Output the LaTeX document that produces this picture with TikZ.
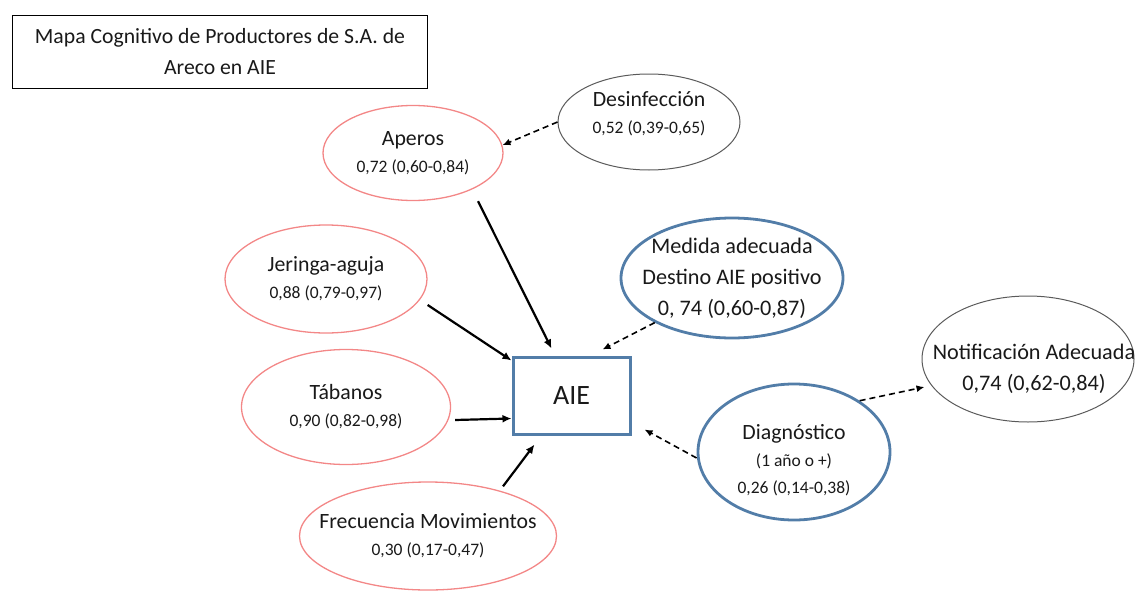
\documentclass[tikz,border=0pt]{standalone}
\usepackage{fontspec}
\setmainfont{Carlito}
\usetikzlibrary{shapes.geometric,arrows.meta}
\definecolor{redline}{RGB}{243,135,135}
\definecolor{blueline}{RGB}{82,125,168}
\definecolor{greyline}{RGB}{90,90,90}
\definecolor{txt}{RGB}{25,25,25}
\newcommand{\lbltxt}{\fontsize{21.8}{27}\selectfont}
\newcommand{\bigtxt}{\fontsize{22.2}{31}\selectfont}
\newcommand{\smalltxt}{\fontsize{17.5}{27}\selectfont}

\begin{document}
\begin{tikzpicture}[x=1pt,y=1pt,
    ell/.style={ellipse,align=center,text=txt,font=\lbltxt,inner xsep=-40pt,inner ysep=-15pt},
    redell/.style={ell,draw=redline,line width=1.3pt},
    blueell/.style={ell,draw=blueline,line width=2.8pt},
    greyell/.style={ell,draw=greyline,line width=1pt},
    arr/.style={-{Latex[length=9pt,width=8pt]},line width=2.2pt},
    darr/.style={-{Latex[length=8pt,width=7pt]},line width=1.6pt,dash pattern=on 6pt off 4pt}]
    \useasboundingbox (0,0) rectangle (1137,-594);

    % Title box
    \node[draw,line width=1.8pt,minimum width=415,minimum height=73,align=center,
          font=\fontsize{21.7}{31}\selectfont,text=txt] (title) at (220,-52)
          {Mapa Cognitivo de Productores de S.A. de\\Areco en AIE};

    % Central node
    \node[draw=blueline,line width=3pt,minimum width=117,minimum height=77,
          font=\fontsize{28}{30}\selectfont,text=txt] (aie) at (571.5,-395.5) {AIE};

    % Red ellipses
    \node[redell,minimum width=180,minimum height=95] (aperos) at (413,-153)
          {Aperos\\{\smalltxt 0,72 (0,60-0,84)}};
    \node[redell,minimum width=202,minimum height=108] (jeringa) at (326,-279)
          {Jeringa-aguja\\{\smalltxt 0,88 (0,79-0,97)}};
    \node[redell,minimum width=209,minimum height=115] (tabanos) at (346,-407)
          {Tábanos\\{\smalltxt 0,90 (0,82-0,98)}};
    \node[redell,minimum width=257,minimum height=108] (frec) at (428,-536)
          {Frecuencia Movimientos\\{\smalltxt 0,30 (0,17-0,47)}};

    % Grey ellipses
    \node[greyell,minimum width=182,minimum height=96,text depth=18pt] (desinf) at (649,-122)
          {Desinfección\\{\smalltxt 0,52 (0,39-0,65)}};
    \node[greyell,minimum width=212,minimum height=126,font=\bigtxt] (notif) at (1028,-359)
          {\rule{0pt}{36pt}\hspace{12pt}Notificación Adecuada\\\hspace{12pt}0,74 (0,62-0,84)};

    % Blue ellipses
    \node[blueell,minimum width=222,minimum height=120,font=\bigtxt] (medida) at (732,-278)
          {Medida adecuada\\Destino AIE positivo\\0, 74 (0,60-0,87)};
    \node[blueell,minimum width=192,minimum height=136] (diag) at (794,-452)
          {\rule{0pt}{32pt}Diagnóstico\\{\smalltxt (1 año o +)}\\{\smalltxt 0,26 (0,14-0,38)}};

    % Solid arrows
    \draw[arr] ([xshift=65pt]aperos.south) -- ([xshift=-20pt,yshift=7pt]aie.north);
    \draw[arr] ([yshift=-26pt]jeringa.east) -- ([yshift=-5pt]aie.north west);
    \draw[arr] ([xshift=4pt,yshift=-13pt]tabanos.east) -- ([yshift=-23pt]aie.west);
    \draw[arr] ([xshift=75pt,yshift=-5pt]frec.north) -- ([xshift=-37pt,yshift=-9pt]aie.south);

    % Dashed arrows
    \draw[darr] (desinf.west) -- (aperos.5);
    \draw[darr] (medida.210) -- ([xshift=31pt,yshift=6pt]aie.north);
    \draw[darr] ([yshift=-6pt]diag.west) -- ([xshift=13pt,yshift=6pt]aie.south east);
    \draw[darr] (diag.38) -- ([xshift=3pt,yshift=-28pt]notif.west);
\end{tikzpicture}
\end{document}
